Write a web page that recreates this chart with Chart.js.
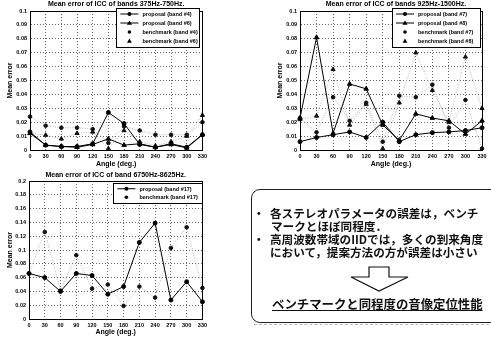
<!DOCTYPE html>
<html>
<head>
<meta charset="utf-8">
<script src="https://cdn.jsdelivr.net/npm/chart.js@4.4.1/dist/chart.umd.min.js"></script>
<style>
  body { margin: 0; width: 491px; height: 338px; overflow: hidden; background: #fff; position: relative; }
  canvas { position: absolute; }
  #c1 { left: 0; top: 0; }
  #c2 { left: 270px; top: 0; }
  #c3 { left: 0; top: 165px; }
  #box { position: absolute; left: 251px; top: 189px; width: 270px; height: 132px; border: 1.3px solid #222; border-radius: 9px; }
  #shadow { position: absolute; left: 254px; top: 324px; width: 240px; border-top: 1px dashed #bbb; }
  .jp { position: absolute; font-family: "Noto Sans CJK JP", sans-serif; font-weight: bold; font-size: 11.6px; line-height: 14px; white-space: nowrap; color: #111; }
  #arrow { position: absolute; left: 0; top: 0; }
</style>
</head>
<body>
<canvas id="c1" width="210" height="170"></canvas>
<canvas id="c2" width="220" height="170"></canvas>
<canvas id="c3" width="210" height="173"></canvas>

<div id="box"></div>
<div id="shadow"></div>
<div class="jp" style="left:253px;top:206px">・</div>
<div class="jp" style="left:270px;top:206px">各ステレオパラメータの誤差は，ベンチ</div>
<div class="jp" style="left:271px;top:219px">マークとほぼ同程度．</div>
<div class="jp" style="left:253px;top:232px">・</div>
<div class="jp" style="left:270px;top:232px">高周波数帯域のIIDでは，多くの到来角度</div>
<div class="jp" style="left:270px;top:245px">において，提案方法の方が誤差は小さい</div>
<svg id="arrow" width="491" height="338">
  <polygon points="369,267 389,267 389,277 408,277 379,291 351,277 369,277" fill="#fff" stroke="#111" stroke-width="1.2"/>
</svg>
<div class="jp" style="left:272px;top:297px;font-size:12.4px;text-decoration:underline">ベンチマークと同程度の音像定位性能</div>

<script>
const angles = ['0', '30', '60', '90', '120', '150', '180', '210', '240', '270', '300', '330'];

// bands 375Hz-750Hz
const prop4 = [0.013, 0.0035, 0.0025, 0.0025, 0.0045, 0.027, 0.019, 0.004, 0.002, 0.0045, 0.002, 0.011];
const prop6 = [0.012, 0.0035, 0.0025, 0.002, 0.004, 0.008, 0.0035, 0.0045, 0.002, 0.004, 0.0015, 0.011];
const bench4 = [0.024, 0.0175, 0.016, 0.016, 0.015, 0.005, 0.017, 0.014, 0.011, 0.011, 0.011, 0.020];
const bench6 = [0.012, 0.0107, 0.008, 0.012, 0.013, 0.001, 0.014, 0.006, 0.003, 0.006, 0.010, 0.025];

// bands 925Hz-1500Hz
const prop7 = [0.006, 0.009, 0.011, 0.013, 0.009, 0.020, 0.006, 0.011, 0.0125, 0.013, 0.014, 0.016];
const prop8 = [0.023, 0.081, 0.012, 0.0475, 0.044, 0.018, 0.007, 0.026, 0.023, 0.021, 0.0115, 0.021];
const bench7 = [0.023, 0.0127, 0.038, 0.021, 0.034, 0.006, 0.039, 0.038, 0.047, 0.016, 0.036, 0.001];
const bench8 = [0.022, 0.0245, 0.058, 0.018, 0.033, 0.001, 0.034, 0.070, 0.043, 0.020, 0.067, 0.030];

// band 6750Hz-8625Hz
const prop17 = [0.066, 0.060, 0.040, 0.066, 0.063, 0.036, 0.047, 0.111, 0.139, 0.0275, 0.054, 0.025];
const bench17 = [0.066, 0.126, 0.041, 0.0925, 0.044, 0.050, 0.019, 0.047, 0.031, 0.103, 0.133, 0.045];

const FONT = '"Liberation Sans", Arial, sans-serif';

function propSet(label, data, style) {
  return { label: label, data: data, borderColor: '#000', backgroundColor: '#000', borderWidth: 1,
    pointStyle: style, pointRadius: style === 'triangle' ? 2.6 : 2, pointBorderWidth: 1, tension: 0 };
}
function benchSet(label, data, style) {
  return { label: label, data: data, borderColor: '#b4b4b4', backgroundColor: '#111', pointBorderColor: '#111',
    borderWidth: 1, borderDash: [1, 1.5], pointStyle: style, pointRadius: style === 'triangle' ? 2.4 : 1.8,
    pointBorderWidth: 1, tension: 0 };
}

function drawMarker(ctx, style, r, x, y) {
  ctx.beginPath();
  if (style === 'triangle') {
    ctx.moveTo(x, y - r); ctx.lineTo(x + r, y + r * 0.7); ctx.lineTo(x - r, y + r * 0.7); ctx.closePath();
  } else {
    ctx.arc(x, y, r, 0, Math.PI * 2);
  }
  ctx.fill();
}

// frame, title and matlab-like legend box
const framePlugin = {
  id: 'framePlugin',
  afterDraw(chart, args, opts) {
    const ctx = chart.ctx;
    const a = chart.chartArea;
    ctx.save();
    ctx.strokeStyle = '#000';
    ctx.lineWidth = 1;
    ctx.strokeRect(Math.round(a.left) + 0.5, Math.round(a.top) + 0.5, Math.round(a.right - a.left), Math.round(a.bottom - a.top));

    ctx.fillStyle = '#000';
    ctx.font = 'bold 7px ' + FONT;
    ctx.textAlign = 'center';
    ctx.textBaseline = 'middle';
    ctx.fillText(opts.title, (a.left + a.right) / 2 + (opts.titleShift || 0), a.top - opts.titleGap);

    const sets = chart.data.datasets;
    const lx = a.right - opts.legRight - opts.legWidth;
    const ly = a.top + opts.legTop;
    const lh = sets.length * opts.legRow + 3;
    ctx.fillStyle = '#fff';
    ctx.fillRect(lx, ly, opts.legWidth, lh);
    ctx.strokeRect(Math.round(lx) + 0.5, Math.round(ly) + 0.5, opts.legWidth, lh);
    ctx.font = 'bold 5.5px ' + FONT;
    ctx.textAlign = 'left';
    sets.forEach((ds, i) => {
      const cy = ly + 1.5 + opts.legRow * (i + 0.5);
      if (ds.borderColor === '#000') {
        ctx.strokeStyle = '#000';
        ctx.beginPath(); ctx.moveTo(lx + 4, cy); ctx.lineTo(lx + 22, cy); ctx.stroke();
      }
      ctx.fillStyle = '#000';
      drawMarker(ctx, ds.pointStyle, ds.pointRadius, lx + 13, cy);
      ctx.fillText(ds.label, lx + 26, cy + 0.5);
    });
    ctx.restore();
  }
};

function makeChart(id, datasets, yMax, yStep, yWidth, xHeight, padding, xTitlePad, frame) {
  return new Chart(document.getElementById(id), {
    type: 'line',
    data: { labels: angles, datasets: datasets },
    options: {
      responsive: false,
      animation: false,
      layout: { padding: padding },
      plugins: { legend: { display: false }, tooltip: { enabled: false }, framePlugin: frame },
      scales: {
        x: {
          offset: false,
          grid: { color: '#222', lineWidth: 0.7, drawTicks: false, offset: false },
          border: { display: true, color: '#000', dash: [1, 2] },
          ticks: { autoSkip: false, maxRotation: 0, padding: 3, color: '#000', font: { family: FONT, size: 5.5, weight: 'bold' } },
          title: { display: true, text: 'Angle (deg.)', color: '#000', padding: { top: 0, bottom: xTitlePad }, font: { family: FONT, size: 7, weight: 'bold' } },
          afterFit(scale) { scale.height = xHeight; }
        },
        y: {
          min: 0,
          max: yMax,
          grid: { color: '#222', lineWidth: 0.7, drawTicks: false },
          border: { display: true, color: '#000', dash: [1, 2] },
          ticks: { stepSize: yStep, padding: 3, color: '#000', font: { family: FONT, size: 5.5, weight: 'bold' },
            callback: v => String(+v.toFixed(2)) },
          title: { display: true, text: 'Mean error', color: '#000', padding: { top: 6, bottom: 0 }, font: { family: FONT, size: 7, weight: 'bold' } },
          afterFit(scale) { scale.width = yWidth; }
        }
      }
    },
    plugins: [framePlugin]
  });
}

makeChart('c1', [
  propSet('proposal (band #4)', prop4, 'circle'),
  propSet('proposal (band #6)', prop6, 'triangle'),
  benchSet('benchmark (band #4)', bench4, 'circle'),
  benchSet('benchmark (band #6)', bench6, 'triangle')
], 0.1, 0.01, 30, 20, { top: 11, right: 6, left: 0, bottom: 0 }, 2,
  { title: 'Mean error of ICC of bands 375Hz-750Hz.', titleGap: 7, legRight: 3, legWidth: 83, legTop: -3, legRow: 9 });

makeChart('c2', [
  propSet('proposal (band #7)', prop7, 'circle'),
  propSet('proposal (band #8)', prop8, 'triangle'),
  benchSet('benchmark (band #7)', bench7, 'circle'),
  benchSet('benchmark (band #8)', bench8, 'triangle')
], 0.1, 0.01, 30, 20, { top: 11, right: 8, left: 0, bottom: 0 }, 2,
  { title: 'Mean error of ICC of bands 925Hz-1500Hz.', titleGap: 7, titleShift: 5, legRight: 2, legWidth: 88, legTop: -3, legRow: 9 });

makeChart('c3', [
  propSet('proposal (band #17)', prop17, 'circle'),
  benchSet('benchmark (band #17)', bench17, 'circle')
], 0.2, 0.02, 29, 19, { top: 16, right: 6, left: 0, bottom: 0 }, 2,
  { title: 'Mean error of ICC of band 6750Hz-8625Hz.', titleGap: 6, legRight: 0, legWidth: 89, legTop: 2, legRow: 8.5 });
</script>
</body>
</html>
